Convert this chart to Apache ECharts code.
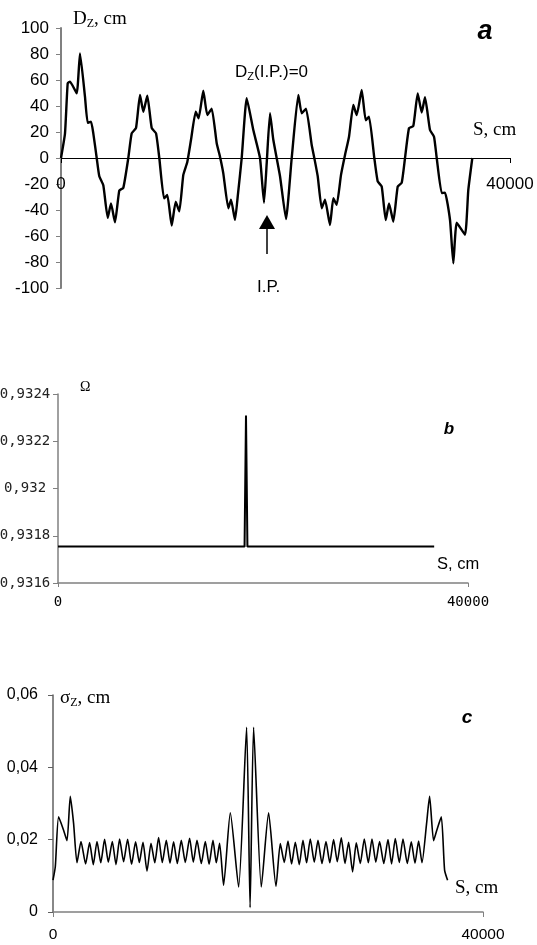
<!DOCTYPE html>
<html><head><meta charset="utf-8">
<script src="https://cdn.jsdelivr.net/npm/echarts@6/dist/echarts.min.js"></script>
<style>html,body{margin:0;padding:0;background:#fff}#c{width:537px;height:945px}</style>
</head><body><div id="c"></div>
<script>
// Panel a: closed orbit vertical dispersion D_Z vs S
const sA = [0, 356, 597, 802, 1399, 1693, 2138, 2379, 2673, 2878, 3181, 3412, 3769, 4161, 4455, 4811, 5194, 5550, 5996, 6299,
  6682, 7038, 7332, 7689, 8081, 8464, 8758, 9176, 9470, 9862, 10218, 10539, 10896, 11252, 11582, 12000,
  12260, 12678, 13034, 13426, 13871, 14165, 14459, 14905, 15145, 15502, 15742, 16099, 16544, 17132, 17729, 18085, 18326, 18620, 18914, 19511,
  20045, 20553, 21141, 21444, 21827, 22335, 22566, 22869, 23225, 23520, 23965, 24259, 24562, 24945, 25302, 25658, 26041, 26344, 26790, 27146,
  27440, 27912, 28215, 28571, 28928, 29222, 29605, 29997, 30353, 30647, 31003, 31386, 31778, 32135, 32428, 32874, 33230, 33471, 33916, 34210,
  34656, 34950, 35253, 35992, 36286, 36643];
const dzA = [0, 19, 57.5, 58.7, 49.7, 80.5, 47, 27, 28, 19, 0, -14, -21, -46, -35, -49.5, -25, -23, 0, 19,
  23, 48.5, 35.6, 48, 23, 19, 0, -31, -28.5, -52, -33.6, -41, -13, -3, 14, 35.6,
  30.5, 51.8, 33, 38, 11.3, 1, -11.8, -38.7, -32, -47.7, -29.7, 0, 46, 21.5, 0, -34.4, -4, 34.4, 14, -14,
  -47, 0, 48.5, 34.4, 38, 10, 0, -14, -38.7, -32, -51.5, -31, -36, -13, 2.3, 16.4, 40.8, 33, 52.3, 29,
  31.8, 0, -18, -22, -47.7, -35, -49, -22, -19, 0, 23, 24.6, 49.7, 35, 46.7, 21.5, 16.4, 0, -27, -26.7,
  -47.7, -81, -49.8, -59, -24.6, 0];

// Panel b: spin tune Omega vs S
const sB = [0, 18200, 18341, 18480, 36700];
const omegaB = [0.931754, 0.931754, 0.932309, 0.931754, 0.931754];

// Panel c: sigma_Z vs S
const sC = [0, 214, 521, 986, 1302, 1609, 1916, 2232,
  2605, 3032, 3404, 3749, 4093, 4446, 4800, 5144, 5516, 5860, 6195, 6567, 6939, 7311, 7683, 8028, 8372, 8744, 9116, 9469,
  9823, 10167, 10539, 10883, 11218, 11562, 11934, 12306, 12706, 13051, 13395, 13795, 14167, 14520, 14883, 15190, 15497,
  15869, 16493, 17265, 18009, 18334, 18660, 19376, 20055, 20743,
  21143, 21515, 21860, 22195, 22539, 22911, 23255, 23590, 23934, 24306, 24650, 25022, 25394, 25748, 26101, 26445, 26818, 27162,
  27497, 27869, 28213, 28585, 28957, 29329, 29673, 30027, 30380, 30771, 31162, 31497, 31841, 32213, 32557, 32957, 33329, 33673, 34008,
  34325, 34753, 35032, 35404, 35702, 36120, 36427, 36706];
const sigmaC = [0.0088, 0.0125, 0.0263, 0.0226, 0.0197, 0.0320, 0.0245, 0.0136,
  0.0195, 0.0133, 0.0192, 0.0131, 0.0195, 0.0136, 0.0201, 0.0138, 0.0195, 0.0131, 0.0202, 0.0139, 0.0201, 0.0132, 0.0194, 0.0137, 0.0193, 0.0113, 0.0190, 0.0136,
  0.0206, 0.0137, 0.0198, 0.0135, 0.0194, 0.0134, 0.0198, 0.0137, 0.0204, 0.0138, 0.0198, 0.0134, 0.0195, 0.0132, 0.0198, 0.0136, 0.0190,
  0.0074, 0.0274, 0.0069, 0.0511, 0.0012, 0.0511, 0.0069, 0.0274, 0.0071,
  0.0189, 0.0137, 0.0196, 0.0133, 0.0193, 0.0131, 0.0198, 0.0136, 0.0202, 0.0138, 0.0198, 0.0134, 0.0195, 0.0136, 0.0200, 0.0139, 0.0205, 0.0134,
  0.0193, 0.0111, 0.0191, 0.0134, 0.0202, 0.0136, 0.0202, 0.0138, 0.0195, 0.0134, 0.0200, 0.0133, 0.0203, 0.0137, 0.0202, 0.0134, 0.0194, 0.0135, 0.0196,
  0.0136, 0.0245, 0.0320, 0.0197, 0.0226, 0.0263, 0.0116, 0.0088];

// Tick labels
const xTickLabels = ['0', '40000'];
const yTickLabelsB = ['0,9316', '0,9318', '0,932', '0,9322', '0,9324'];
const yTickLabelsC = ['0', '0,02', '0,04', '0,06'];

const zip = (xs, ys) => xs.map((x, i) => [x, ys[i]]);
const SANS = 'Liberation Sans, Arial, sans-serif';
const SERIF = 'Liberation Serif, Times New Roman, serif';
const MONO = 'DejaVu Sans Mono, monospace';

const chart = echarts.init(document.getElementById('c'), null, {renderer: 'canvas'});

const baseGrid = {containLabel: false, outerBoundsMode: 'none'};
const option = {
  animation: false,
  backgroundColor: '#fff',
  grid: [
    Object.assign({left: 61, top: 28, width: 449, height: 260}, baseGrid),
    Object.assign({left: 58, top: 394, width: 410, height: 189}, baseGrid),
    Object.assign({left: 53, top: 695, width: 430, height: 217}, baseGrid)
  ],
  xAxis: [
    {gridIndex: 0, type: 'value', min: 0, max: 40000, interval: 40000, position: 'bottom', offset: -130,
     axisLine: {onZero: false, lineStyle: {color: '#000', width: 1}},
     axisTick: {show: true, length: 5, lineStyle: {color: '#000'}},
     axisLabel: {fontFamily: SANS, fontSize: 17, color: '#000', margin: 18,
       formatter: (v, i) => xTickLabels[i]},
     splitLine: {show: false}},
    {gridIndex: 1, type: 'value', min: 0, max: 40000, interval: 40000,
     axisLine: {onZero: false, lineStyle: {color: '#808080', width: 1.5}},
     axisTick: {show: true, length: 4, lineStyle: {color: '#808080'}},
     axisLabel: {fontFamily: MONO, fontSize: 14, color: '#000', margin: 12,
       formatter: (v, i) => xTickLabels[i]},
     splitLine: {show: false}},
    {gridIndex: 2, type: 'value', min: 0, max: 40000, interval: 40000,
     axisLine: {onZero: false, lineStyle: {color: '#808080', width: 1.5}},
     axisTick: {show: true, length: 5, lineStyle: {color: '#808080'}},
     axisLabel: {fontFamily: SANS, fontSize: 15.5, color: '#000', margin: 15,
       formatter: (v, i) => xTickLabels[i]},
     splitLine: {show: false}}
  ],
  yAxis: [
    {gridIndex: 0, type: 'value', min: -100, max: 100, interval: 20,
     axisLine: {show: true, onZero: false, lineStyle: {color: '#808080', width: 2}},
     axisTick: {show: true, length: 5, lineStyle: {color: '#808080'}},
     axisLabel: {fontFamily: SANS, fontSize: 17, color: '#000', margin: 12},
     splitLine: {show: false}},
    {gridIndex: 1, type: 'value', min: 0.9316, max: 0.9324, interval: 0.0002,
     axisLine: {show: true, onZero: false, lineStyle: {color: '#808080', width: 1.5}},
     axisTick: {show: true, length: 5, lineStyle: {color: '#808080'}},
     axisLabel: {fontFamily: MONO, fontSize: 14, color: '#222', margin: 33, align: 'center',
       formatter: (v, i) => yTickLabelsB[i]},
     splitLine: {show: false}},
    {gridIndex: 2, type: 'value', min: 0, max: 0.06, interval: 0.02,
     axisLine: {show: true, onZero: false, lineStyle: {color: '#606060', width: 1.5}},
     axisTick: {show: true, length: 5, lineStyle: {color: '#606060'}},
     axisLabel: {fontFamily: SANS, fontSize: 16, color: '#000', margin: 15,
       formatter: (v, i) => yTickLabelsC[i]},
     splitLine: {show: false}}
  ],
  series: [
    {type: 'line', xAxisIndex: 0, yAxisIndex: 0, data: zip(sA, dzA), showSymbol: false, smooth: 0.15,
     lineStyle: {color: '#000', width: 2.4}},
    {type: 'line', xAxisIndex: 1, yAxisIndex: 1, data: zip(sB, omegaB), showSymbol: false,
     lineStyle: {color: '#000', width: 2}},
    {type: 'line', xAxisIndex: 2, yAxisIndex: 2, data: zip(sC, sigmaC), showSymbol: false, smooth: 0.2,
     lineStyle: {color: '#000', width: 1.6}}
  ],
  graphic: [
    {type: 'text', x: 73, y: 19, style: {text: '{d|D}{z|Z}{r|, cm}', textVerticalAlign: 'middle', fill: '#000',
      rich: {d: {fontFamily: SERIF, fontSize: 19, lineHeight: 22, color: '#000'},
             z: {fontFamily: SERIF, fontSize: 12, lineHeight: 12, verticalAlign: 'bottom', color: '#000'},
             r: {fontFamily: SERIF, fontSize: 19, lineHeight: 22, color: '#000'}}}},
    {type: 'text', x: 235, y: 72, style: {text: '{d|D}{z|Z}{r|(I.P.)=0}', textVerticalAlign: 'middle', fill: '#000',
      rich: {d: {fontFamily: SANS, fontSize: 17, lineHeight: 20, color: '#000'},
             z: {fontFamily: SANS, fontSize: 11, lineHeight: 11, verticalAlign: 'bottom', color: '#000'},
             r: {fontFamily: SANS, fontSize: 17, lineHeight: 20, color: '#000'}}}},
    {type: 'text', x: 485, y: 32, style: {text: 'a', font: 'italic bold 27px ' + SANS, fill: '#000', textAlign: 'center', textVerticalAlign: 'middle'}},
    {type: 'text', x: 473, y: 130, style: {text: 'S, cm', font: '19px ' + SERIF, fill: '#000', textVerticalAlign: 'middle'}},
    {type: 'polygon', shape: {points: [[259, 229], [275, 229], [267, 215]]}, style: {fill: '#000'}},
    {type: 'line', shape: {x1: 267, y1: 229, x2: 267, y2: 254}, style: {stroke: '#000', lineWidth: 1.5}},
    {type: 'text', x: 257, y: 287, style: {text: 'I.P.', font: '17px ' + SANS, fill: '#000', textVerticalAlign: 'middle'}},
    {type: 'text', x: 80, y: 387, style: {text: 'Ω', font: '14px ' + SERIF, fill: '#000', textVerticalAlign: 'middle'}},
    {type: 'text', x: 449, y: 429, style: {text: 'b', font: 'italic bold 17px ' + SANS, fill: '#000', textAlign: 'center', textVerticalAlign: 'middle'}},
    {type: 'text', x: 437, y: 564, style: {text: 'S, cm', font: '16.5px ' + SANS, fill: '#000', textVerticalAlign: 'middle'}},
    {type: 'text', x: 60, y: 698, style: {text: '{d|σ}{z|Z}{r|, cm}', textVerticalAlign: 'middle', fill: '#000',
      rich: {d: {fontFamily: SERIF, fontSize: 19, lineHeight: 22, color: '#000'},
             z: {fontFamily: SERIF, fontSize: 12, lineHeight: 12, verticalAlign: 'bottom', color: '#000'},
             r: {fontFamily: SERIF, fontSize: 19, lineHeight: 22, color: '#000'}}}},
    {type: 'text', x: 467, y: 718, style: {text: 'c', font: 'italic bold 19px ' + SANS, fill: '#000', textAlign: 'center', textVerticalAlign: 'middle'}},
    {type: 'text', x: 455, y: 888, style: {text: 'S, cm', font: '19px ' + SERIF, fill: '#000', textVerticalAlign: 'middle'}}
  ]
};
chart.setOption(option);
</script></body></html>
